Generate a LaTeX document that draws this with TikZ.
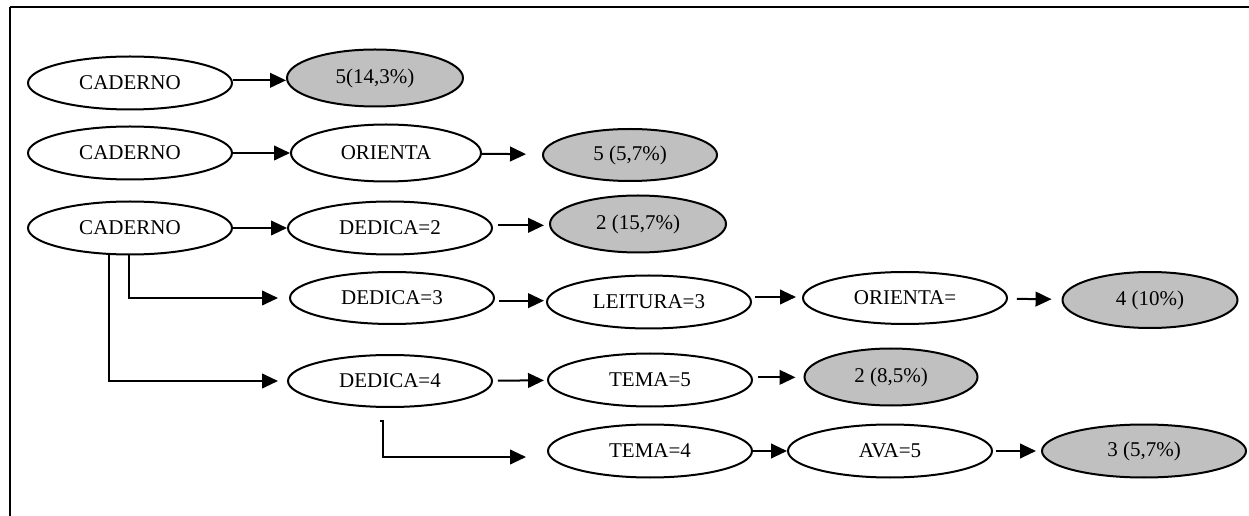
\documentclass[tikz,border=0pt]{standalone}
\usepackage{fontspec}
\setmainfont{Liberation Serif}
\usetikzlibrary{shapes.geometric,arrows.meta,calc}

\definecolor{resgray}{RGB}{192,192,192}

\tikzset{every picture/.style={line width=1.5pt}}
\tikzset{
  state/.style={draw, ellipse, inner sep=0pt, minimum width=153pt, minimum height=39.75pt,
    font=\fontsize{15.75}{18}\selectfont},
  result/.style={state, fill=resgray, minimum width=132pt, minimum height=42.75pt},
  arr/.style={-{Triangle[length=12pt,width=11pt]}}
}

\begin{document}
\begin{tikzpicture}[x=0.75pt,y=0.75pt,yscale=-1,xscale=1]
		\useasboundingbox (0,0) rectangle (1249,516);
		
		%Frame
		\draw (10,7) -- (1249,7) (10,7) -- (10,516) ;
		
		% Row 1
		\node [state] (cadA) at (130,83) {CADERNO};
		\node [result] (resA) at (375,78) {5(14,3\%)};
		
		% Row 2
		\node [state] (cadB) at (130,153) {CADERNO};
		\node [state, minimum width=142.5pt, minimum height=42.75pt] (oriB) at (386,153) {ORIENTA};
		\node [result, minimum width=130.5pt, minimum height=39pt] (resB) at (630,155) {5 (5,7\%)};
		
		% Row 3
		\node [state] (cadC) at (130,228) {CADERNO};
		\node [state] (dedC2) at (390,228) {DEDICA=2};
		\node [result] (resC) at (638,224) {2 (15,7\%)};
		
		% Row 4
		\node [state, minimum height=39pt] (dedC3) at (392,298) {DEDICA=3};
		\node [state] (leiC) at (649,302) {LEITURA=3};
		\node [state, minimum height=39pt] (oriC) at (905,298) {ORIENTA=};
		\node [result, minimum width=131.25pt, minimum height=42pt] (resD) at (1150,300) {4 (10\%)};
		
		% Row 5
		\node [state, minimum height=39pt] (dedC4) at (390,381) {DEDICA=4};
		\node [state] (temC5) at (650,380) {TEMA=5};
		\node [result, minimum width=129.75pt] (resE) at (891,377) {2 (8,5\%)};
		
		% Row 6
		\node [state] (temC4) at (650,451) {TEMA=4};
		\node [state] (avaC) at (890,451) {AVA=5};
		\node [result, minimum width=153pt, minimum height=39.75pt] (resF) at (1144,451) {3 (5,7\%)};
		
		% Arrows
		\draw [arr] ([yshift=-2pt]cadA.east) -- ([yshift=-2pt]cadA.east -| resA.west) ;
		\draw [arr] (cadB) -- (oriB) ;
		\draw [arr, shorten >=12pt] (oriB) -- (resB) ;
		\draw [arr] (cadC) -- (dedC2) ;
		\draw [arr, shorten <=3.75pt, shorten >=3.75pt] ([yshift=-2pt]dedC2.east) -- ([yshift=-2pt]dedC2.east -| resC.west) ;
		\draw [arr, shorten <=3pt, shorten >=1.5pt] ([yshift=2pt]dedC3.east) -- ([yshift=2pt]dedC3.east -| leiC.west) ;
		\draw [arr, shorten <=2pt, shorten >=4.5pt] ([yshift=-3.75pt]leiC.east) -- ([yshift=-3.75pt]leiC.east -| oriC.west) ;
		\draw [arr, shorten <=6.75pt, shorten >=7.5pt] (oriC) -- (resD) ;
		\draw [arr, shorten <=3.75pt, shorten >=2.25pt] (dedC4) -- (temC5) ;
		\draw [arr, shorten <=3.75pt, shorten >=6pt] ([yshift=-2pt]temC5.east) -- ([yshift=-2pt]temC5.east -| resE.west) ;
		\draw [arr] (temC4) -- (avaC) ;
		\draw [arr, shorten <=2pt, shorten >=3.75pt] (avaC) -- (resF) ;
		
		% Elbow connectors
		\draw [arr, shorten >=8.25pt] ($(cadC.south)+(-1,0)$) |- (dedC3.west) ;
		\draw [arr, shorten >=6.75pt] ($(cadC.south)+(-21,0)$) |- (dedC4.west) ;
		\draw [arr, shorten >=15.75pt] ($(dedC4.south)+(-10,13)$) -- ($(dedC4.south)+(-7,13)$) |- ([yshift=4.5pt]temC4.west) ;
		
\end{tikzpicture}
\end{document}
